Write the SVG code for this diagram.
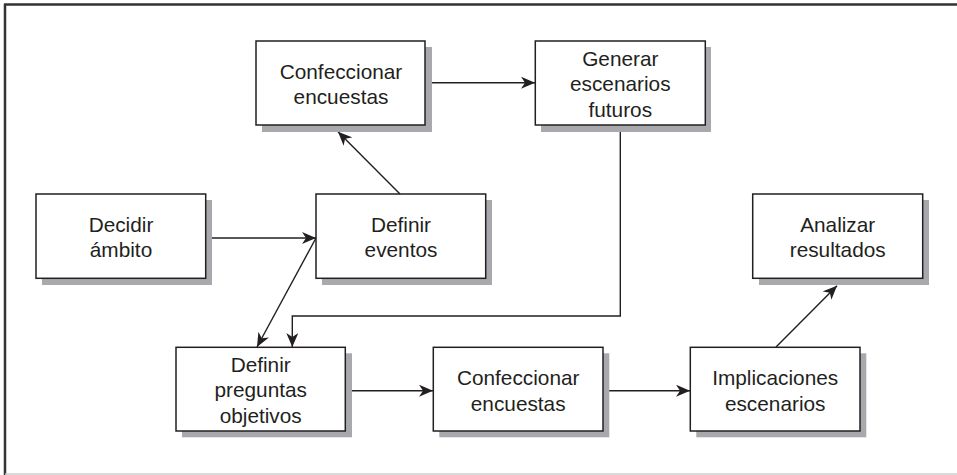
<svg xmlns="http://www.w3.org/2000/svg" width="957" height="475" viewBox="0 0 957 475">
<style>
.box{fill:#fff;stroke:#231f20;stroke-width:1.5}
.sh{fill:#a7a9ac}
.t{font-family:"Liberation Sans",Arial,sans-serif;font-size:20.8px;fill:#231f20;text-anchor:middle}
.c{fill:none;stroke:#231f20;stroke-width:1.4}
</style>
<defs>
<marker id="ah" markerUnits="userSpaceOnUse" markerWidth="16" markerHeight="12" refX="14" refY="6" orient="auto">
<path d="M0,0 L14,6 L0,12 L4,6 z" fill="#231f20"/>
</marker>
</defs>
<rect width="957" height="475" fill="#fff"/>
<g id="frame">
<line x1="4" y1="4.5" x2="957" y2="4.5" stroke="#333" stroke-width="2.5"/>
<line x1="5" y1="4" x2="5" y2="475" stroke="#333" stroke-width="2.5"/>
<line x1="5" y1="474" x2="957" y2="474" stroke="#ccc" stroke-width="1.5"/>
</g>
<g id="connectors">
<line class="c" x1="432" y1="82.7" x2="535" y2="82.7" marker-end="url(#ah)"/>
<line class="c" x1="400" y1="194" x2="338" y2="131.7" marker-end="url(#ah)"/>
<line class="c" x1="212" y1="238" x2="316" y2="238" marker-end="url(#ah)"/>
<line class="c" x1="316" y1="238" x2="257" y2="347" marker-end="url(#ah)"/>
<polyline class="c" points="620.3,131.7 620.3,316 292.3,316 292.3,347" marker-end="url(#ah)"/>
<line class="c" x1="352" y1="390.7" x2="433" y2="390.7" marker-end="url(#ah)"/>
<line class="c" x1="609" y1="390.7" x2="690" y2="390.7" marker-end="url(#ah)"/>
<line class="c" x1="776" y1="347" x2="837" y2="285.7" marker-end="url(#ah)"/>
</g>
<g id="n-confeccionar-top">
<rect class="sh" x="262" y="47" width="170" height="85"/>
<rect class="box" x="256" y="41" width="169" height="84"/>
<text class="t" x="341" y="78.5">Confeccionar</text>
<text class="t" x="341" y="104">encuestas</text>
</g>
<g id="n-generar">
<rect class="sh" x="541" y="47" width="170" height="85"/>
<rect class="box" x="535.3" y="41" width="170" height="84"/>
<text class="t" x="620.3" y="66">Generar</text>
<text class="t" x="620.3" y="91">escenarios</text>
<text class="t" x="620.3" y="116.5">futuros</text>
</g>
<g id="n-decidir">
<rect class="sh" x="42" y="200" width="170" height="85"/>
<rect class="box" x="36" y="194" width="169.7" height="84.3"/>
<text class="t" x="121" y="232">Decidir</text>
<text class="t" x="121" y="257">ámbito</text>
</g>
<g id="n-definir-eventos">
<rect class="sh" x="322" y="200" width="170" height="85"/>
<rect class="box" x="316" y="194" width="169.7" height="84.3"/>
<text class="t" x="401" y="232">Definir</text>
<text class="t" x="401" y="257">eventos</text>
</g>
<g id="n-analizar">
<rect class="sh" x="759" y="200" width="170" height="85"/>
<rect class="box" x="752.7" y="194" width="170" height="84.3"/>
<text class="t" x="837.7" y="232">Analizar</text>
<text class="t" x="837.7" y="257">resultados</text>
</g>
<g id="n-definir-preguntas">
<rect class="sh" x="182" y="353.3" width="170" height="84"/>
<rect class="box" x="176" y="347.3" width="169.3" height="83.7"/>
<text class="t" x="260.7" y="372.3">Definir</text>
<text class="t" x="260.7" y="397.3">preguntas</text>
<text class="t" x="260.7" y="422.7">objetivos</text>
</g>
<g id="n-confeccionar-bottom">
<rect class="sh" x="439.3" y="353.3" width="170" height="84"/>
<rect class="box" x="433.3" y="347.3" width="169.7" height="83.7"/>
<text class="t" x="518.2" y="385">Confeccionar</text>
<text class="t" x="518.2" y="410.5">encuestas</text>
</g>
<g id="n-implicaciones">
<rect class="sh" x="696.3" y="353.3" width="170" height="84"/>
<rect class="box" x="690.3" y="347.3" width="169.7" height="83.7"/>
<text class="t" x="775.2" y="385">Implicaciones</text>
<text class="t" x="775.2" y="410.5">escenarios</text>
</g>
</svg>
